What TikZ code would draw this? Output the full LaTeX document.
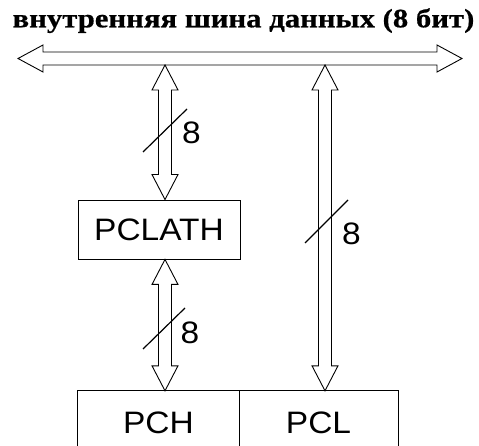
\documentclass[tikz,border=0pt]{standalone}
\usepackage{fontspec}
\setmainfont{Liberation Serif}
\newfontfamily\labfont[FakeStretch=1.08]{Liberation Sans}
\newfontfamily\titlefont[FakeStretch=1.16, FakeBold=0.6]{Liberation Serif Bold}
\usetikzlibrary{calc}
\tikzset{
  outline/.style={draw=black, line width=0.9pt, line join=miter},
  regbox/.style={draw=black, line width=0.9pt, rectangle, inner sep=0pt,
    font=\labfont\fontsize{31}{31}\selectfont},
  lab/.style={font=\labfont\fontsize{31}{31}\selectfont, inner sep=0pt},
  slash/.style={draw=black, line width=1.2pt},
}
\newcommand\hollowdbl[2]{%
  \draw[outline] let \p1=(#1), \p2=(#2) in
    (\x1,\y1) -- (\x1+13pt,\y1-25pt) -- (\x1+6.5pt,\y1-25pt) --
    (\x1+6.5pt,\y2+25pt) -- (\x1+13pt,\y2+25pt) -- (\x1,\y2) --
    (\x1-13pt,\y2+25pt) -- (\x1-6.5pt,\y2+25pt) --
    (\x1-6.5pt,\y1-25pt) -- (\x1-13pt,\y1-25pt) -- cycle;}
\begin{document}
\begin{tikzpicture}[x=1pt,y=-1pt]
\clip (0,0) rectangle (479,446);
\fill[white] (0,0) rectangle (479,446);
% title
\node[anchor=base, inner sep=0pt, font=\titlefont\fontsize{26.5}{26.5}\selectfont] (title) at (243.5,27.3)
  {внутренняя шина данных (8 бит)};
% bus
\coordinate (busL) at (18,58.5);
\coordinate (busR) at (462,58.5);
\draw[outline] let \p1=(busL), \p2=(busR) in
  (\x1,\y1) -- (\x1+25pt,\y1+13.5pt) -- (\x1+25pt,\y1+6.5pt) -- (\x2-25pt,\y1+6.5pt) --
  (\x2-25pt,\y1+13.5pt) -- (\x2,\y2) -- (\x2-25pt,\y1-13.5pt) -- (\x2-25pt,\y1-6.5pt) --
  (\x1+25pt,\y1-6.5pt) -- (\x1+25pt,\y1-13.5pt) -- cycle;
% registers
\node[regbox, minimum width=162pt, minimum height=59pt] (pclath) at (159,229.5) {PCLATH};
\node[lab, minimum width=161pt, minimum height=64pt] (pch) at (158.5,423) {PCH};
\node[lab, minimum width=159pt, minimum height=64pt] (pcl) at (318.5,423) {PCL};
\draw[line width=0.9pt] (pch.south west) -- (pch.north west) -- (pcl.north east) -- (pcl.south east);
\draw[line width=0.9pt] (pch.north east) -- (pch.south east);
% bus attachment points
\coordinate (busB1) at (165,65);
\coordinate (busB2) at (325,65);
% arrows
\hollowdbl{busB1}{busB1 |- pclath.north}
\hollowdbl{pclath.south -| busB1}{busB1 |- pch.north}
\hollowdbl{busB2}{busB2 |- pcl.north}
% width marks
\draw[slash] (143,152) -- (187,109);
\node[lab] (n1) at (191.5,132.5) {8};
\draw[slash] (305,243) -- (348,200);
\node[lab] (n2) at (351.5,233.5) {8};
\draw[slash] (143,349) -- (185,308);
\node[lab] (n3) at (190,332.5) {8};
\end{tikzpicture}
\end{document}
